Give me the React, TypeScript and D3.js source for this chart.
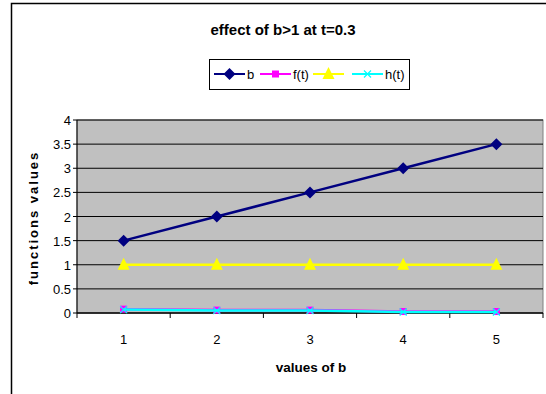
import React from "react";
import * as d3 from "d3";

const categories = [1, 2, 3, 4, 5];
const bValues = [1.5, 2, 2.5, 3, 3.5];
const fValues = [0.08, 0.06, 0.06, 0.03, 0.03];
const gValues = [1, 1, 1, 1, 1];
const hValues = [0.07, 0.05, 0.05, 0.02, 0.02];
const yTicks = [0, 0.5, 1, 1.5, 2, 2.5, 3, 3.5, 4];
const seriesNames = ["b", "f(t)", "", "h(t)"];

const W = 546, H = 394;
const plot = { left: 77, right: 543, top: 120, bottom: 313 };
const FONT = "'Liberation Sans', Arial, sans-serif";

function Marker({ type, x, y, color }: { type: string; x: number; y: number; color: string }) {
  if (type === "diamond") {
    const s = 6;
    return <path d={`M${x},${y - s}L${x + s},${y}L${x},${y + s}L${x - s},${y}Z`} fill={color} />;
  }
  if (type === "square") {
    const s = 3.5;
    return <rect x={x - s} y={y - s} width={2 * s} height={2 * s} fill={color} />;
  }
  if (type === "triangle") {
    return <path d={`M${x},${y - 7}L${x + 6},${y + 5}L${x - 6},${y + 5}Z`} fill={color} />;
  }
  const s = 3.5;
  return (
    <path d={`M${x - s},${y - s}L${x + s},${y + s}M${x + s},${y - s}L${x - s},${y + s}`} stroke={color} strokeWidth={1.2} />
  );
}

export default function App() {
  const x = d3.scaleBand<number>().domain(categories).range([plot.left, plot.right]);
  const cx = (c: number) => (x(c) as number) + x.bandwidth() / 2;
  const y = d3.scaleLinear().domain([0, 4]).range([plot.bottom, plot.top]);
  const line = d3.line<number>().x((_, i) => cx(categories[i])).y((v) => y(v));

  const series = [
    { name: seriesNames[0], values: bValues, color: "#000080", marker: "diamond" },
    { name: seriesNames[2], values: gValues, color: "#FFFF00", marker: "triangle" },
    { name: seriesNames[1], values: fValues, color: "#FF00FF", marker: "square" },
    { name: seriesNames[3], values: hValues, color: "#00FFFF", marker: "x" },
  ];
  const legendItems = [
    { name: seriesNames[0], color: "#000080", marker: "diamond", x0: 214 },
    { name: seriesNames[1], color: "#FF00FF", marker: "square", x0: 260 },
    { name: seriesNames[2], color: "#FFFF00", marker: "triangle", x0: 313 },
    { name: seriesNames[3], color: "#00FFFF", marker: "x", x0: 352 },
  ];
  const boundaries = d3.range(categories.length + 1).map((i) => plot.left + i * x.bandwidth());

  return (
    <svg width={W} height={H} style={{ position: "absolute", left: 0, top: 0 }} fontFamily={FONT}>
      <rect x={0} y={0} width={W} height={H} fill="#fff" />
      <rect x={11.5} y={3.5} width={W + 10} height={H + 10} fill="none" stroke="#000" strokeWidth={1.5} />
      <text x={283} y={35} textAnchor="middle" fontSize={15} fontWeight="bold">effect of b&gt;1 at t=0.3</text>

      {/* legend */}
      <rect x={209.5} y={59.5} width={200} height={30} fill="#fff" stroke="#000" strokeWidth={1} />
      {legendItems.map((it) => (
        <g key={it.x0}>
          <line x1={it.x0} x2={it.x0 + 31} y1={74} y2={74} stroke={it.color} strokeWidth={2} />
          <Marker type={it.marker} x={it.x0 + 15.5} y={74} color={it.color} />
          {it.name && (
            <text x={it.x0 + 33} y={79} fontSize={13}>{it.name}</text>
          )}
        </g>
      ))}

      {/* plot area */}
      <rect x={plot.left} y={plot.top} width={plot.right - plot.left} height={plot.bottom - plot.top} fill="#C0C0C0" stroke="#808080" strokeWidth={1} />
      {yTicks.map((t) => (
        <g key={t}>
          <line x1={plot.left - 4} x2={plot.right} y1={y(t)} y2={y(t)} stroke="#000" strokeWidth={1} />
          <text x={71} y={y(t) + 5} textAnchor="end" fontSize={13}>{t}</text>
        </g>
      ))}
      <line x1={plot.left} x2={plot.left} y1={plot.top} y2={plot.bottom} stroke="#000" strokeWidth={1} />
      <line x1={plot.left} x2={plot.right} y1={plot.bottom} y2={plot.bottom} stroke="#000" strokeWidth={1} />
      {boundaries.map((b) => (
        <line key={b} x1={b} x2={b} y1={plot.bottom} y2={plot.bottom + 5} stroke="#000" strokeWidth={1} />
      ))}
      {categories.map((c) => (
        <text key={c} x={cx(c)} y={344} textAnchor="middle" fontSize={13}>{c}</text>
      ))}

      {series.map((s, si) => (
        <g key={si}>
          <path d={line(s.values) as string} fill="none" stroke={s.color} strokeWidth={2.5} />
          {s.values.map((v, i) => (
            <Marker key={i} type={s.marker} x={cx(categories[i])} y={y(v)} color={s.color} />
          ))}
        </g>
      ))}

      <text x={311} y={372} textAnchor="middle" fontSize={13.5} fontWeight="bold">values of b</text>
      <text transform={`translate(38,218) rotate(-90)`} textAnchor="middle" fontSize={13} fontWeight="bold" letterSpacing={2}>functions values</text>
    </svg>
  );
}
